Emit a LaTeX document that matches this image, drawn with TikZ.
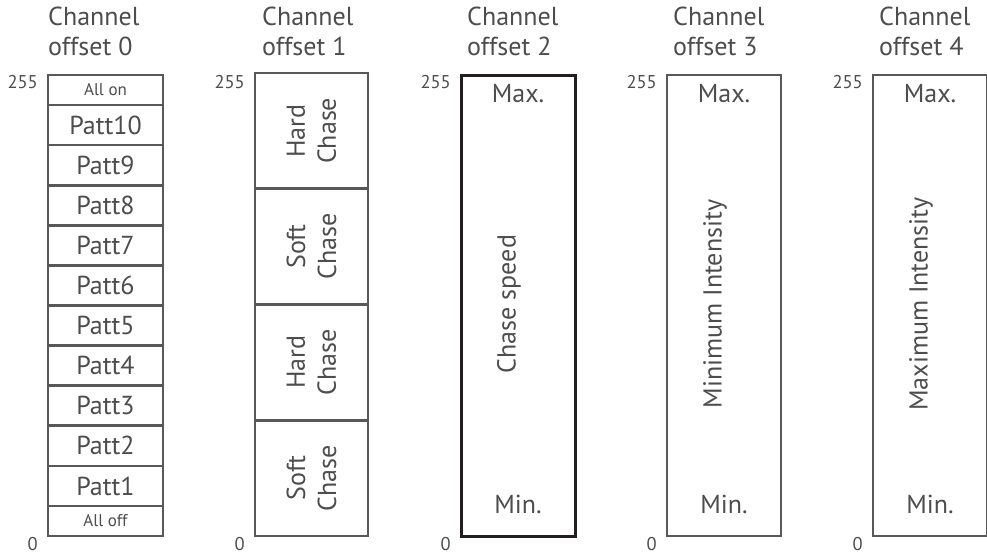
\documentclass[tikz,border=0pt]{standalone}
\usepackage{fontspec}
\setmainfont{PT Sans}
\definecolor{tgray}{HTML}{4D4D4D}
\definecolor{bgray}{HTML}{585858}
\definecolor{dark}{HTML}{231F20}
\begin{document}
\begin{tikzpicture}[x=1pt,y=-1pt,
  txt/.style={text=tgray, inner sep=0pt, font=\fontsize{26}{31}\selectfont},
  smalltxt/.style={text=tgray, inner sep=0pt, font=\fontsize{17}{20}\selectfont},
  numtxt/.style={text=tgray, inner sep=0pt, font=\fontsize{18.5}{20}\selectfont},
  cell/.style={draw=bgray, line width=2.7pt, inner sep=0pt, outer sep=0pt, minimum width=115pt},
  rcell/.style={draw=bgray, line width=2.7pt, inner sep=0pt, outer sep=0pt, rotate=90, align=center, text=tgray, font=\fontsize{26}{31}\selectfont},
  bigbox/.style={draw=bgray, line width=2.7pt, inner sep=0pt, outer sep=0pt, minimum width=114pt, minimum height=461pt, anchor=north west},
  darkbox/.style={bigbox, draw=dark, line width=3pt}
]
\useasboundingbox (0,0) rectangle (987,555);

% ---------- headings ----------
\foreach \n/\x in {0/48,1/262,2/467,3/673,4/879}{
  \node[txt, anchor=base west] (ch\n) at (\x,25) {Channel};
  \node[txt, anchor=base west] (of\n) at (\x,55) {offset \n};
}

% ---------- scale numbers ----------
\foreach \n/\x in {0/48,1/255,2/461,3/667,4/873}{
  \node[numtxt, anchor=base east] (top\n) at (\x-10,88) {255};
  \node[numtxt, anchor=base east] (bot\n) at (\x-10,550) {0};
}

% ---------- column 0 ----------
\node[cell, minimum height=30pt, smalltxt] (allon) at (105.5,90) {All on};
\foreach \k/\t in {0/Patt10,1/Patt9,2/Patt8,3/Patt7,4/Patt6,5/Patt5,6/Patt4,7/Patt3,8/Patt2,9/Patt1}{
  \node[cell, minimum height=40.1pt, txt] (p\k) at (105.5,{125.05+40.1*\k}) {\t};
}
\node[cell, minimum height=30pt, smalltxt] (alloff) at (105.5,521) {All off};

% ---------- column 1 ----------
\node[rcell, minimum width=115.75pt, minimum height=113pt] (s1) at (311.5,{73+115.75*0.5}) {Hard\\Chase};
\node[rcell, minimum width=115.75pt, minimum height=113pt] (s2) at (311.5,{73+115.75*1.5}) {Soft\\Chase};
\node[rcell, minimum width=115.75pt, minimum height=113pt] (s3) at (311.5,{73+115.75*2.5}) {Hard\\Chase};
\node[rcell, minimum width=115.75pt, minimum height=113pt] (s4) at (311.5,{73+115.75*3.5}) {Soft\\Chase};

% ---------- column 2 ----------
\node[darkbox] (b2) at (461,75) {};
\node[txt, anchor=base] (max2) at (b2.center |- 0,102) {Max.};
\node[txt, anchor=base] (min2) at (b2.center |- 0,513) {Min.};
\node[txt, anchor=base, rotate=90] (cs) at (515.5,304) {Chase speed};

% ---------- column 3 ----------
\node[bigbox] (b3) at (667,75) {};
\node[txt, anchor=base] (max3) at (b3.center |- 0,102) {Max.};
\node[txt, anchor=base] (min3) at (b3.center |- 0,513) {Min.};
\node[txt, anchor=base, rotate=90] (mi) at (721.5,304) {Minimum Intensity};

% ---------- column 4 ----------
\node[bigbox] (b4) at (873,75) {};
\node[txt, anchor=base] (max4) at (b4.center |- 0,102) {Max.};
\node[txt, anchor=base] (min4) at (b4.center |- 0,513) {Min.};
\node[txt, anchor=base, rotate=90] (ma) at (927.5,304) {Maximum Intensity};
\end{tikzpicture}
\end{document}
